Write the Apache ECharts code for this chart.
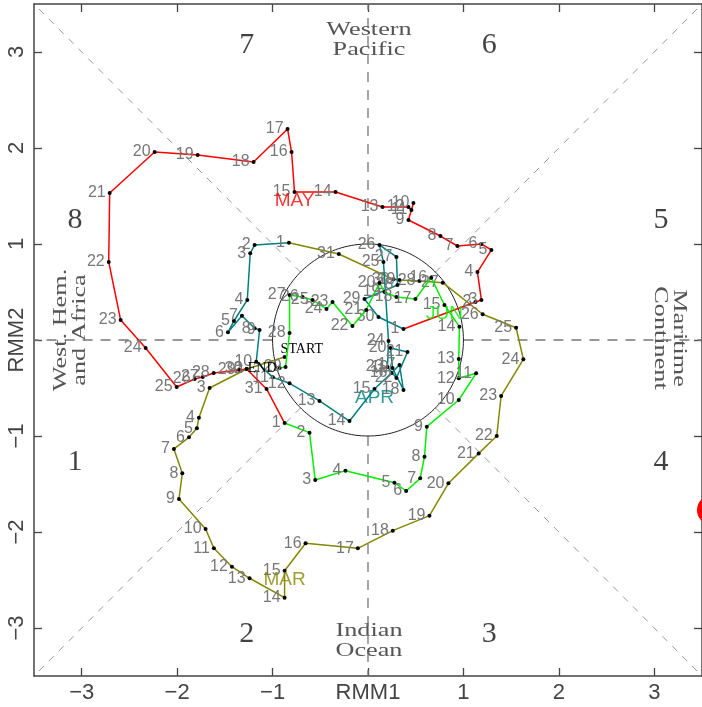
<!DOCTYPE html>
<html>
<head>
<meta charset="utf-8">
<script src="https://cdn.jsdelivr.net/npm/echarts@6/dist/echarts.min.js"></script>
<style>
  html, body { margin: 0; padding: 0; background: #fff; }
  #chart { width: 702px; height: 707px; }
</style>
</head>
<body>
<div id="chart"></div>
<script>
// tick values on both axes (0 is shown as the axis name)
const TICKS = [-3, -2, -1, 0, 1, 2, 3]
const MONTHS = ['MAR', 'APR', 'MAY', 'JUN']

// RMM1 / RMM2 per day
const marX = [-0.874, -1.272, -1.660, -1.772, -1.793, -1.876, -2.034, -1.946, -1.981, -1.702,
  -1.615, -1.426, -1.241, -0.874, -0.874, -0.654, -0.107, 0.260, 0.644, 0.843,
  1.160, 1.349, 1.395, 1.628, 1.552, 1.202, 0.783, 0.539, 0.330, 0.267, -0.306]
const marY = [-0.177, -0.302, -0.500, -0.809, -0.920, -1.014, -1.135, -1.389, -1.656, -1.969,
  -2.170, -2.361, -2.482, -2.684, -2.403, -2.118, -2.170, -1.986, -1.830, -1.493,
  -1.181, -1.000, -0.583, -0.201, 0.128, 0.268, 0.597, 0.615, 0.625, 0.632, 0.896]

const aprX = [-0.829, -1.188, -1.234, -1.265, -1.405, -1.468, -1.321, -1.188, -1.136, -1.171,
  -0.997, -0.822, -0.508, -0.194, 0.068, 0.246, 0.330, 0.372, 0.257, 0.236,
  0.414, 0.298, 0.204, 0.215, 0.162, 0.120, 0.298, 0.309, -0.037, 0.110]
const aprY = [1.014, 0.990, 0.903, 0.417, 0.198, 0.080, 0.253, 0.122, 0.104, -0.226,
  -0.389, -0.451, -0.635, -0.844, -0.510, -0.344, -0.260, -0.521, -0.292, -0.083,
  -0.125, -0.396, -0.281, -0.010, 0.813, 0.990, 0.865, 0.573, 0.427, 0.240]

const mayX = [0.372, 1.126, 1.188, 1.147, 1.293, 1.188, 0.937, 0.759, 0.424, 0.476,
  0.455, 0.424, 0.152, -0.340, -0.770, -0.801, -0.843, -1.199, -1.785, -2.236,
  -2.707, -2.717, -2.592, -2.330, -2.005, -1.817, -1.732, -1.617, -1.345, -1.272, -1.063]
const mayY = [0.115, 0.396, 0.417, 0.708, 0.938, 1.000, 0.979, 1.083, 1.250, 1.427,
  1.354, 1.385, 1.385, 1.542, 1.542, 1.958, 2.198, 1.854, 1.927, 1.958,
  1.531, 0.813, 0.208, -0.083, -0.490, -0.406, -0.385, -0.344, -0.313, -0.302, -0.510]

const junX = [-0.874, -0.613, -0.553, -0.236, 0.277, 0.400, 0.547, 0.592, 0.616, 0.951,
  1.133, 0.951, 0.951, 0.958, 0.801, 0.662, 0.497, 0.298, 0.173, 0.120,
  -0.019, -0.163, -0.372, -0.435, -0.581, -0.686, -0.822, -0.822, -0.864, -0.927]
const junY = [-0.865, -0.965, -1.458, -1.361, -1.486, -1.573, -1.441, -1.215, -0.903, -0.625,
  -0.347, -0.399, -0.198, 0.139, 0.365, 0.649, 0.427, 0.448, 0.500, 0.594,
  0.313, 0.146, 0.396, 0.323, 0.417, 0.448, 0.469, 0.073, -0.281, -0.292]

const monthX = [marX, aprX, mayX, junX]
const monthY = [marY, aprY, mayY, junY]
const monthColors = ['#868600', '#008080', '#ff0000', '#00ee00']

const myChart = echarts.init(document.getElementById('chart'))

// dashed phase boundaries, from the unit circle to the frame
const phaseLines = []
for (let k = 0; k < 8; k++) {
    const a = k * Math.PI / 4
    const c = Math.cos(a), s = Math.sin(a)
    const diag = k % 2 === 1
    const far = diag ? 3.5 * Math.SQRT2 : 3.5
    phaseLines.push({
        type: 'line',
        data: [[c, s], [c * far, s * far]],
        symbol: 'none',
        silent: true,
        z: 1,
        lineStyle: {
            color: diag ? '#999' : '#777',
            width: diag ? 1 : 1.3,
            type: diag ? [7, 7] : [10, 8]
        }
    })
}

const circle = []
for (let i = 0; i <= 180; i++) {
    const a = i / 180 * Math.PI * 2
    circle.push([Math.cos(a), Math.sin(a)])
}

const trackSeries = MONTHS.map((m, mi) => {
    const xs = monthX[mi], ys = monthY[mi]
    const data = xs.map((x, i) => ({ value: [x, ys[i]] }))
    if (mi === 0) {
        data[0].label = {
            formatter: 'START', position: 'right', offset: [-8, -8],
            fontFamily: 'Liberation Serif', fontSize: 14, color: '#000'
        }
    }
    if (mi === MONTHS.length - 1) {
        data[data.length - 1].label = {
            formatter: 'END', position: 'left', distance: 1,
            fontFamily: 'Liberation Serif', fontSize: 14, color: '#000'
        }
    }
    // join to the first day of the next month
    if (mi < MONTHS.length - 1) {
        data.push({
            value: [monthX[mi + 1][0], monthY[mi + 1][0]],
            symbol: 'none',
            label: { show: false }
        })
    }
    return {
        type: 'line',
        name: m,
        data: data,
        z: 3 + mi,
        symbol: 'circle',
        symbolSize: 4,
        itemStyle: { color: '#000' },
        lineStyle: { color: monthColors[mi], width: 1.5 },
        label: {
            show: true,
            position: 'left',
            distance: 2,
            fontFamily: 'Liberation Sans',
            fontSize: 16,
            color: '#777',
            formatter: p => String(p.dataIndex + 1)
        },
        animation: false
    }
})

const monthLabels = {
    type: 'scatter',
    symbolSize: 0,
    z: 10,
    silent: true,
    data: MONTHS.map((m, mi) => ({
        name: m,
        value: [monthX[mi][14], monthY[mi][14]],
        label: { color: monthColors[mi] }
    })),
    label: {
        show: true,
        position: 'inside',
        offset: [0, 9],
        fontFamily: 'Liberation Sans',
        fontSize: 19,
        formatter: p => p.name
    }
}

const phaseNums = [
    ['7', -1.27, 3.07], ['6', 1.27, 3.07], ['8', -3.07, 1.25], ['5', 3.07, 1.25],
    ['1', -3.07, -1.27], ['4', 3.07, -1.27], ['2', -1.27, -3.06], ['3', 1.27, -3.06]
]
const phaseSeries = {
    type: 'scatter',
    symbolSize: 0,
    silent: true,
    z: 2,
    data: phaseNums.map(d => ({ name: d[0], value: [d[1], d[2]] })),
    label: {
        show: true,
        position: 'inside',
        fontFamily: 'Liberation Serif',
        fontSize: 30,
        color: '#111',
        formatter: p => p.name
    }
}

function axisBase(pos, showLabel, nameForZero) {
    return {
        type: 'value',
        min: -3.5,
        max: 3.5,
        position: pos,
        axisLine: { show: true, onZero: false, lineStyle: { color: '#444', width: 1.5 } },
        axisTick: { show: true, inside: true, length: 8, customValues: TICKS, lineStyle: { color: '#444', width: 1.3 } },
        axisLabel: {
            show: showLabel,
            customValues: TICKS,
            fontFamily: 'Liberation Sans',
            fontSize: 22,
            color: '#444',
            margin: 6,
            rotate: (pos === 'left') ? 90 : 0,
            formatter: v => v === 0 ? nameForZero : (v < 0 ? '\u2212' + (-v) : String(v))
        },
        splitLine: { show: false }
    }
}

const regionFont = '19px "Liberation Serif"'
myChart.setOption({
    animation: false,
    backgroundColor: '#fff',
    grid: { left: 34, top: 4, width: 669, height: 672 },
    xAxis: [axisBase('bottom', true, 'RMM1'), axisBase('top', false, '')],
    yAxis: [axisBase('left', true, 'RMM2'), axisBase('right', false, '')],
    graphic: [
        { type: 'text', x: 369, y: 40, scaleX: 1.38, style: { text: 'Western\nPacific', font: regionFont, fill: '#555', align: 'center', verticalAlign: 'middle', lineHeight: 20 } },
        { type: 'text', x: 369, y: 641, scaleX: 1.38, style: { text: 'Indian\nOcean', font: regionFont, fill: '#555', align: 'center', verticalAlign: 'middle', lineHeight: 20 } },
        { type: 'text', x: 71, y: 330, rotation: Math.PI / 2, scaleX: 1.38, style: { text: 'West. Hem.\nand Africa', font: regionFont, fill: '#555', align: 'center', verticalAlign: 'middle', lineHeight: 19 } },
        { type: 'text', x: 669, y: 338, rotation: -Math.PI / 2, scaleX: 1.38, style: { text: 'Maritime\nContinent', font: regionFont, fill: '#555', align: 'center', verticalAlign: 'middle', lineHeight: 19 } },
        { type: 'circle', shape: { cx: 712, cy: 510, r: 15 }, style: { fill: '#ff0000' }, z: 100 }
    ],
    series: [
        ...phaseLines,
        {
            type: 'line', data: circle, symbol: 'none', silent: true, z: 1,
            lineStyle: { color: '#222', width: 1 }
        },
        phaseSeries,
        ...trackSeries,
        monthLabels
    ]
})
</script>
</body>
</html>
